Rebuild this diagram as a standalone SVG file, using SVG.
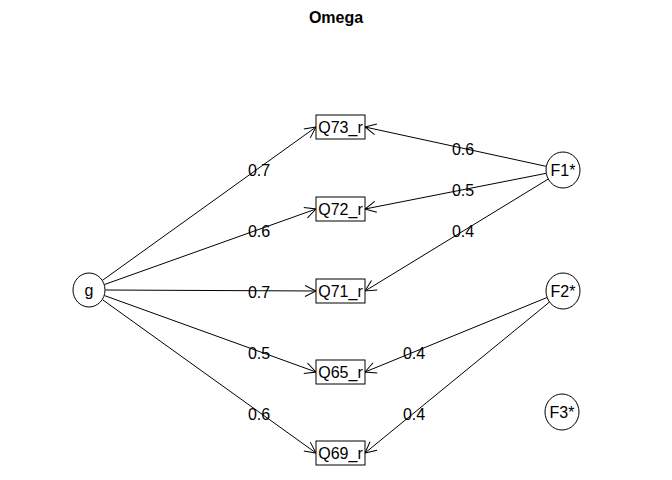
<svg xmlns="http://www.w3.org/2000/svg" width="672" height="480" viewBox="0 0 672 480">
  <style>
    .lbl { font-family: "Liberation Sans", Arial, sans-serif; font-size: 16px; fill: #000; text-anchor: middle; dominant-baseline: central; }
    .title { font-family: "Liberation Sans", Arial, sans-serif; font-size: 16px; font-weight: bold; fill: #000; text-anchor: middle; }
    .node { fill: #fff; stroke: #000; stroke-width: 1; }
    .edge { stroke: #000; stroke-width: 1; fill: none; marker-end: url(#arrow); }
  </style>
  <defs>
    <marker id="arrow" markerUnits="userSpaceOnUse" markerWidth="14" markerHeight="14" viewBox="0 0 14 14" refX="12" refY="7" orient="auto">
      <path d="M1,1.5 L12,7 L1,12.5" fill="none" stroke="#000" stroke-width="1"/>
    </marker>
  </defs>
  <rect width="672" height="480" fill="#fff"/>
  <text class="title" x="336" y="23">Omega</text>

  <g id="connectors">
    <!-- general factor loadings -->
    <line class="edge" x1="102.4" y1="280.4" x2="316" y2="127"/>
    <line class="edge" x1="104.5" y1="284.5" x2="316" y2="209"/>
    <line class="edge" x1="105.5" y1="290" x2="316" y2="291"/>
    <line class="edge" x1="104.5" y1="295.6" x2="316" y2="372"/>
    <line class="edge" x1="102.4" y1="299.6" x2="316" y2="453"/>
    <!-- group factor loadings -->
    <line class="edge" x1="546.4" y1="166.4" x2="365" y2="127"/>
    <line class="edge" x1="546.3" y1="173.3" x2="365" y2="209"/>
    <line class="edge" x1="548.5" y1="178.9" x2="365" y2="291"/>
    <line class="edge" x1="547.3" y1="297.4" x2="365" y2="372"/>
    <line class="edge" x1="549.8" y1="301.8" x2="365" y2="453"/>
    <!-- loading labels -->
    <text class="lbl" x="259" y="170">0.7</text>
    <text class="lbl" x="259" y="231">0.6</text>
    <text class="lbl" x="259" y="292">0.7</text>
    <text class="lbl" x="259" y="353">0.5</text>
    <text class="lbl" x="259" y="414">0.6</text>
    <text class="lbl" x="463" y="149">0.6</text>
    <text class="lbl" x="463" y="190">0.5</text>
    <text class="lbl" x="463" y="231">0.4</text>
    <text class="lbl" x="414" y="353">0.4</text>
    <text class="lbl" x="414" y="414">0.4</text>
  </g>

  <g id="g">
    <ellipse class="node" cx="89" cy="290" rx="16" ry="17"/>
    <text class="lbl" x="89" y="290">g</text>
  </g>

  <g id="Q73_r">
    <rect class="node" x="316" y="115" width="49" height="24"/>
    <text class="lbl" x="340.5" y="127">Q73_r</text>
  </g>
  <g id="Q72_r">
    <rect class="node" x="316" y="197" width="49" height="24"/>
    <text class="lbl" x="340.5" y="209">Q72_r</text>
  </g>
  <g id="Q71_r">
    <rect class="node" x="316" y="279" width="49" height="24"/>
    <text class="lbl" x="340.5" y="291">Q71_r</text>
  </g>
  <g id="Q65_r">
    <rect class="node" x="316" y="360" width="49" height="24"/>
    <text class="lbl" x="340.5" y="372">Q65_r</text>
  </g>
  <g id="Q69_r">
    <rect class="node" x="316" y="441" width="49" height="24"/>
    <text class="lbl" x="340.5" y="453">Q69_r</text>
  </g>

  <g id="F1">
    <ellipse class="node" cx="563" cy="170" rx="17" ry="18"/>
    <text class="lbl" x="563" y="170">F1*</text>
  </g>
  <g id="F2">
    <ellipse class="node" cx="563" cy="291" rx="17" ry="18"/>
    <text class="lbl" x="563" y="291">F2*</text>
  </g>
  <g id="F3">
    <ellipse class="node" cx="562" cy="412" rx="17" ry="18"/>
    <text class="lbl" x="562" y="412">F3*</text>
  </g>
</svg>
